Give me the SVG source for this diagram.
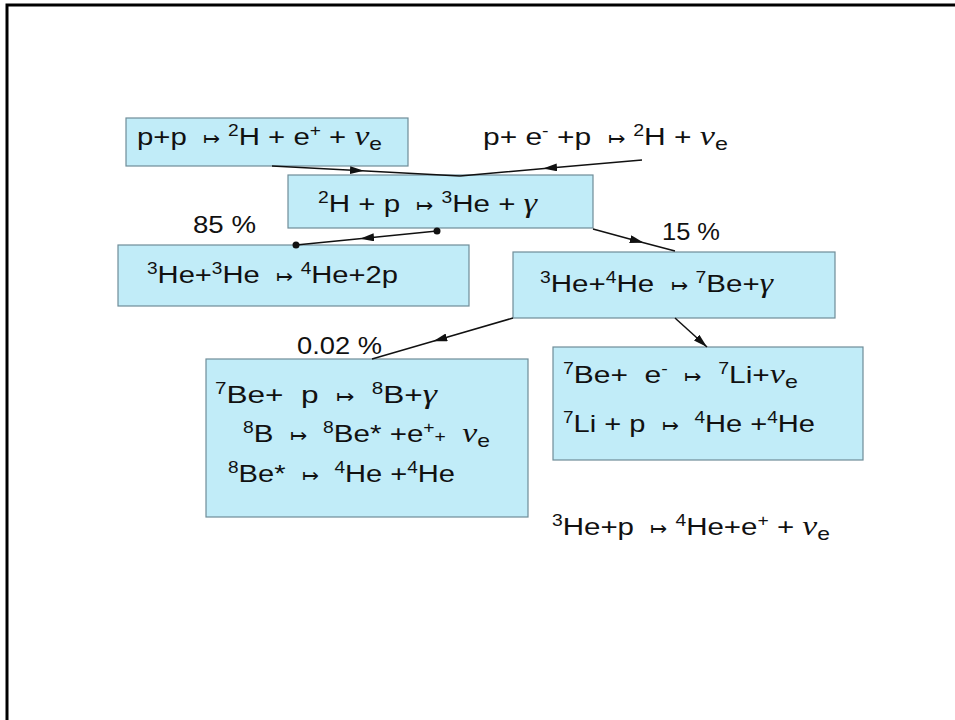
<svg xmlns="http://www.w3.org/2000/svg" width="955" height="720" viewBox="0 0 955 720">
<style>
.box{fill:#c1ecf8;stroke:#6f8d98;stroke-width:1.2}
.t{font-family:"Liberation Sans",Arial,sans-serif;font-size:24.5px;fill:#111;white-space:pre}
.sup{font-size:16px}
.sub{font-size:19px}
.ar{font-size:17px}
.gr{font-family:"Liberation Serif","Times New Roman",serif;font-style:italic;font-size:28px}
.c{fill:none;stroke:#111;stroke-width:1.5}
</style>
<defs>
<marker id="ah" viewBox="0 0 14 8" refX="7" refY="4" markerWidth="14" markerHeight="8" markerUnits="userSpaceOnUse" orient="auto">
<path d="M0,0 L14,4 L0,8 Z" fill="#111"/>
</marker>
<marker id="ahe" viewBox="0 0 14 8" refX="14" refY="4" markerWidth="14" markerHeight="8" markerUnits="userSpaceOnUse" orient="auto">
<path d="M0,0 L14,4 L0,8 Z" fill="#111"/>
</marker>
</defs>
<rect width="955" height="720" fill="#fff"/>
<path d="M7,720 V5 H955" fill="none" stroke="#000" stroke-width="3"/>

<g id="n1">
<rect class="box" x="126" y="118" width="282" height="48"/>
<text class="t" x="137" y="145" textLength="245" lengthAdjust="spacingAndGlyphs">p+p  <tspan class="ar">↦</tspan> <tspan class="sup" dy="-9">2</tspan><tspan dy="9">H + e</tspan><tspan class="sup" dy="-9">+</tspan><tspan dy="9"> + </tspan><tspan class="gr">ν</tspan><tspan class="sub" dy="5">e</tspan></text>
</g>

<g id="n2">
<text class="t" x="483" y="145" textLength="245" lengthAdjust="spacingAndGlyphs">p+ e<tspan class="sup" dy="-9">-</tspan><tspan dy="9"> +p  </tspan><tspan class="ar">↦</tspan> <tspan class="sup" dy="-9">2</tspan><tspan dy="9">H + </tspan><tspan class="gr">ν</tspan><tspan class="sub" dy="5">e</tspan></text>
</g>

<g id="n3">
<rect class="box" x="288" y="175" width="305" height="53"/>
<text class="t" x="318" y="212" textLength="219" lengthAdjust="spacingAndGlyphs"><tspan class="sup" dy="-9">2</tspan><tspan dy="9">H + p  </tspan><tspan class="ar">↦</tspan> <tspan class="sup" dy="-9">3</tspan><tspan dy="9">He + </tspan><tspan class="gr">γ</tspan></text>
</g>

<g id="n4">
<rect class="box" x="118" y="245" width="351" height="61"/>
<text class="t" x="147" y="283" textLength="251" lengthAdjust="spacingAndGlyphs"><tspan class="sup" dy="-9">3</tspan><tspan dy="9">He+</tspan><tspan class="sup" dy="-9">3</tspan><tspan dy="9">He  </tspan><tspan class="ar">↦</tspan> <tspan class="sup" dy="-9">4</tspan><tspan dy="9">He+2p</tspan></text>
</g>

<g id="n5">
<rect class="box" x="513" y="252" width="322" height="66"/>
<text class="t" x="540" y="292" textLength="233" lengthAdjust="spacingAndGlyphs"><tspan class="sup" dy="-9">3</tspan><tspan dy="9">He+</tspan><tspan class="sup" dy="-9">4</tspan><tspan dy="9">He  </tspan><tspan class="ar">↦</tspan> <tspan class="sup" dy="-9">7</tspan><tspan dy="9">Be+</tspan><tspan class="gr">γ</tspan></text>
</g>

<g id="n6">
<rect class="box" x="553" y="347" width="310" height="113"/>
<text class="t" x="563" y="383" textLength="235" lengthAdjust="spacingAndGlyphs"><tspan class="sup" dy="-9">7</tspan><tspan dy="9">Be+  e</tspan><tspan class="sup" dy="-9">-</tspan><tspan dy="9">  </tspan><tspan class="ar">↦</tspan>  <tspan class="sup" dy="-9">7</tspan><tspan dy="9">Li+</tspan><tspan class="gr">ν</tspan><tspan class="sub" dy="5">e</tspan></text>
<text class="t" x="563" y="432" textLength="252" lengthAdjust="spacingAndGlyphs"><tspan class="sup" dy="-9">7</tspan><tspan dy="9">Li + p  </tspan><tspan class="ar">↦</tspan>  <tspan class="sup" dy="-9">4</tspan><tspan dy="9">He +</tspan><tspan class="sup" dy="-9">4</tspan><tspan dy="9">He</tspan></text>
</g>

<g id="n7">
<rect class="box" x="206" y="359" width="322" height="158"/>
<text class="t" x="215" y="403" textLength="222" lengthAdjust="spacingAndGlyphs"><tspan class="sup" dy="-9">7</tspan><tspan dy="9">Be+  p  </tspan><tspan class="ar">↦</tspan>  <tspan class="sup" dy="-9">8</tspan><tspan dy="9">B+</tspan><tspan class="gr">γ</tspan></text>
<text class="t" x="243" y="442" textLength="247" lengthAdjust="spacingAndGlyphs"><tspan class="sup" dy="-9">8</tspan><tspan dy="9">B  </tspan><tspan class="ar">↦</tspan>  <tspan class="sup" dy="-9">8</tspan><tspan dy="9">Be* +e</tspan><tspan class="sup" dy="-9">+</tspan><tspan class="sup" dy="9">+</tspan>  <tspan class="gr">ν</tspan><tspan class="sub" dy="5">e</tspan></text>
<text class="t" x="228" y="482" textLength="227" lengthAdjust="spacingAndGlyphs"><tspan class="sup" dy="-9">8</tspan><tspan dy="9">Be*  </tspan><tspan class="ar">↦</tspan>  <tspan class="sup" dy="-9">4</tspan><tspan dy="9">He +</tspan><tspan class="sup" dy="-9">4</tspan><tspan dy="9">He</tspan></text>
</g>

<g id="n8">
<text class="t" x="552" y="535" textLength="278" lengthAdjust="spacingAndGlyphs"><tspan class="sup" dy="-9">3</tspan><tspan dy="9">He+p  </tspan><tspan class="ar">↦</tspan> <tspan class="sup" dy="-9">4</tspan><tspan dy="9">He+e</tspan><tspan class="sup" dy="-9">+</tspan><tspan dy="9"> + </tspan><tspan class="gr">ν</tspan><tspan class="sub" dy="5">e</tspan></text>
</g>

<g id="labels">
<text class="t" x="193" y="233" textLength="63" lengthAdjust="spacingAndGlyphs">85 %</text>
<text class="t" x="662" y="240" textLength="58" lengthAdjust="spacingAndGlyphs">15 %</text>
<text class="t" x="297" y="354" textLength="85" lengthAdjust="spacingAndGlyphs">0.02 %</text>
</g>

<g id="connectors">
<polyline class="c" points="272,166 357,170.5 460,176" marker-mid="url(#ah)"/>
<polyline class="c" points="642,160 550,168 460,176" marker-mid="url(#ah)"/>
<polyline class="c" points="437,231 367,238 296,245" marker-mid="url(#ah)"/>
<circle cx="437" cy="231" r="3.5" fill="#111"/>
<circle cx="296" cy="245" r="3.5" fill="#111"/>
<polyline class="c" points="593,229 637,241 675,251" marker-mid="url(#ah)"/>
<line class="c" x1="675" y1="318" x2="707" y2="347" marker-end="url(#ahe)"/>
<polyline class="c" points="513,318 440,339.3 372,359" marker-mid="url(#ah)"/>
</g>
</svg>
